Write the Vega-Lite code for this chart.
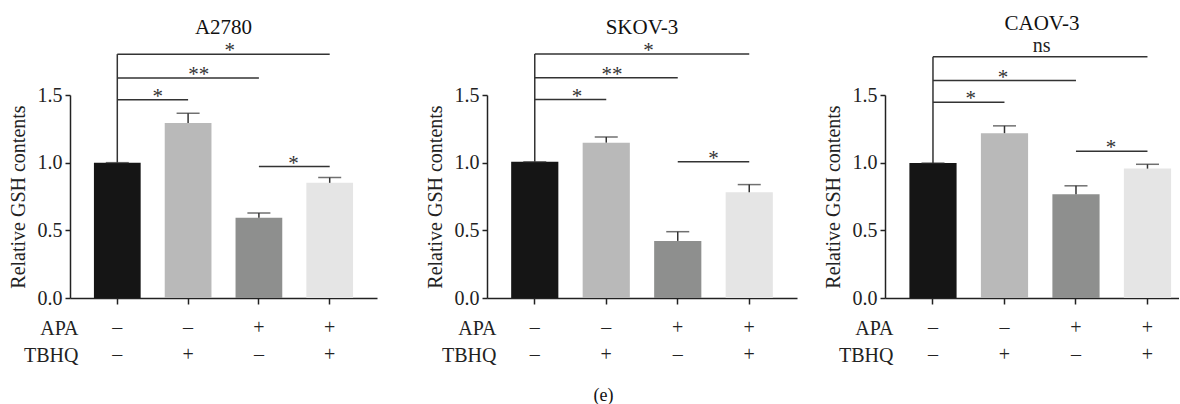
{
  "$schema": "https://vega.github.io/schema/vega-lite/v6.json",
  "padding": {"left": 8, "right": 0, "top": 12, "bottom": 0},
  "spacing": 26,
  "title": {"text": "(e)", "orient": "bottom", "anchor": "middle", "fontSize": 18, "offset": 22, "dx": 10, "color": "#111", "font": "Liberation Serif"},
  "datasets": {
    "barsA": [
      {"cond": "–/–", "value": 1.0, "hi": 1.0},
      {"cond": "–/+", "value": 1.294, "hi": 1.365},
      {"cond": "+/–", "value": 0.593, "hi": 0.628},
      {"cond": "+/+", "value": 0.851, "hi": 0.89}
    ],
    "brkA": [
      {"x1": 0, "x2": 3, "y": 1.802, "lab": "*", "lx": 1.59},
      {"x1": 0, "x2": 2, "y": 1.625, "lab": "**", "lx": 1.15},
      {"x1": 0, "x2": 1, "y": 1.465, "lab": "*", "lx": 0.57},
      {"x1": 2, "x2": 3, "y": 0.971, "lab": "*", "lx": 2.49}
    ],
    "stemA": [{"x": 0, "y": 1.0, "y2": 1.802}],
    "barsS": [
      {"cond": "–/–", "value": 1.006, "hi": 1.006},
      {"cond": "–/+", "value": 1.148, "hi": 1.19},
      {"cond": "+/–", "value": 0.422, "hi": 0.49},
      {"cond": "+/+", "value": 0.781, "hi": 0.838}
    ],
    "brkS": [
      {"x1": 0, "x2": 3, "y": 1.803, "lab": "*", "lx": 1.59},
      {"x1": 0, "x2": 2, "y": 1.627, "lab": "**", "lx": 1.08},
      {"x1": 0, "x2": 1, "y": 1.466, "lab": "*", "lx": 0.59},
      {"x1": 2, "x2": 3, "y": 1.006, "lab": "*", "lx": 2.5}
    ],
    "stemS": [{"x": 0, "y": 1.006, "y2": 1.803}],
    "barsC": [
      {"cond": "–/–", "value": 0.997, "hi": 0.997},
      {"cond": "–/+", "value": 1.218, "hi": 1.272},
      {"cond": "+/–", "value": 0.767, "hi": 0.829},
      {"cond": "+/+", "value": 0.956, "hi": 0.988}
    ],
    "brkC": [
      {"x1": 0, "x2": 3, "y": 1.782, "lab": "ns", "lx": 1.52},
      {"x1": 0, "x2": 2, "y": 1.607, "lab": "*", "lx": 0.98},
      {"x1": 0, "x2": 1, "y": 1.446, "lab": "*", "lx": 0.53},
      {"x1": 2, "x2": 3, "y": 1.085, "lab": "*", "lx": 2.49}
    ],
    "stemC": [{"x": 0, "y": 0.997, "y2": 1.782}]
  },
  "hconcat": [
    {
      "width": 329, "height": 203,
      "title": {"text": "A2780", "dx": -11},
      "resolve": {"scale": {"x": "independent"}},
      "layer": [
        {
          "data": {"name": "barsA"},
          "mark": {"type": "bar"},
          "encoding": {
            "x": {"field": "cond", "type": "nominal", "sort": null, "scale": {"range": [0, 307], "paddingInner": 0.34, "paddingOuter": 0.338},
              "axis": {"labelFont": "Liberation Serif", "titleFont": "Liberation Serif", "labelExpr": "split(datum.label,'/')", "labelLineHeight": 27, "labelAngle": 0, "labelBaseline": "top", "labelPadding": 13, "tickSize": 6, "title": ["APA", "TBHQ"], "titleX": 8, "titleY": 20, "titleAlign": "right", "titleBaseline": "top", "titleLineHeight": 27, "titleAngle": 0}},
            "y": {"field": "value", "type": "quantitative", "scale": {"domain": [0, 1.5], "nice": false},
              "axis": {"labelFont": "Liberation Serif", "titleFont": "Liberation Serif", "values": [0, 0.5, 1, 1.5], "format": ".1f", "tickSize": 5, "labelPadding": 3, "titlePadding": 9, "title": "Relative GSH contents"}},
            "color": {"field": "cond", "type": "nominal", "scale": {"domain": ["–/–", "–/+", "+/–", "+/+"], "range": ["#151515", "#b9b9b9", "#8e8f8e", "#e5e5e5"]}, "legend": null}
          }
        },
        {
          "data": {"name": "barsA"},
          "mark": {"type": "rule", "color": "#333", "strokeWidth": 1.5},
          "encoding": {
            "x": {"field": "cond", "type": "nominal", "sort": null, "scale": {"range": [0, 307], "paddingInner": 0.34, "paddingOuter": 0.338}, "axis": null},
            "y": {"field": "value", "type": "quantitative", "scale": {"domain": [0, 1.5], "nice": false}},
            "y2": {"field": "hi"}
          }
        },
        {
          "data": {"name": "barsA"},
          "mark": {"type": "tick", "color": "#333", "thickness": 1.5, "size": 23},
          "encoding": {
            "x": {"field": "cond", "type": "nominal", "sort": null, "scale": {"range": [0, 307], "paddingInner": 0.34, "paddingOuter": 0.338}, "axis": null},
            "y": {"field": "hi", "type": "quantitative", "scale": {"domain": [0, 1.5], "nice": false}}
          }
        },
        {
          "data": {"name": "brkA"},
          "mark": {"type": "rule", "color": "#333", "strokeWidth": 1.5},
          "encoding": {
            "x": {"field": "x1", "type": "quantitative", "scale": {"domain": [-0.668, 3.668], "range": [0, 307], "nice": false, "zero": false}, "axis": null},
            "x2": {"field": "x2"},
            "y": {"field": "y", "type": "quantitative", "scale": {"domain": [0, 1.5], "nice": false}}
          }
        },
        {
          "data": {"name": "stemA"},
          "mark": {"type": "rule", "color": "#333", "strokeWidth": 1.5},
          "encoding": {
            "x": {"field": "x", "type": "quantitative", "scale": {"domain": [-0.668, 3.668], "range": [0, 307], "nice": false, "zero": false}, "axis": null},
            "y": {"field": "y", "type": "quantitative", "scale": {"domain": [0, 1.5], "nice": false}},
            "y2": {"field": "y2"}
          }
        },
        {
          "data": {"name": "brkA"},
          "mark": {"type": "text", "font": "Liberation Serif", "fontSize": 21, "baseline": "alphabetic", "dy": 3, "color": "#333"},
          "encoding": {
            "x": {"field": "lx", "type": "quantitative", "scale": {"domain": [-0.668, 3.668], "range": [0, 307], "nice": false, "zero": false}, "axis": null},
            "y": {"field": "y", "type": "quantitative", "scale": {"domain": [0, 1.5], "nice": false}},
            "text": {"field": "lab"}
          }
        }
      ]
    },
    {
      "width": 310, "height": 203,
      "title": {"text": "SKOV-3"},
      "resolve": {"scale": {"x": "independent"}},
      "layer": [
        {
          "data": {"name": "barsS"},
          "mark": {"type": "bar"},
          "encoding": {
            "x": {"field": "cond", "type": "nominal", "sort": null, "scale": {"range": [0, 310], "paddingInner": 0.34, "paddingOuter": 0.338},
              "axis": {"labelFont": "Liberation Serif", "titleFont": "Liberation Serif", "labelExpr": "split(datum.label,'/')", "labelLineHeight": 27, "labelAngle": 0, "labelBaseline": "top", "labelPadding": 13, "tickSize": 6, "title": ["APA", "TBHQ"], "titleX": 9, "titleY": 20, "titleAlign": "right", "titleBaseline": "top", "titleLineHeight": 27, "titleAngle": 0}},
            "y": {"field": "value", "type": "quantitative", "scale": {"domain": [0, 1.5], "nice": false},
              "axis": {"labelFont": "Liberation Serif", "titleFont": "Liberation Serif", "values": [0, 0.5, 1, 1.5], "format": ".1f", "tickSize": 5, "labelPadding": 3, "titlePadding": 9, "title": "Relative GSH contents"}},
            "color": {"field": "cond", "type": "nominal", "scale": {"domain": ["–/–", "–/+", "+/–", "+/+"], "range": ["#151515", "#b9b9b9", "#8e8f8e", "#e5e5e5"]}, "legend": null}
          }
        },
        {
          "data": {"name": "barsS"},
          "mark": {"type": "rule", "color": "#333", "strokeWidth": 1.5},
          "encoding": {
            "x": {"field": "cond", "type": "nominal", "sort": null, "scale": {"range": [0, 310], "paddingInner": 0.34, "paddingOuter": 0.338}, "axis": null},
            "y": {"field": "value", "type": "quantitative", "scale": {"domain": [0, 1.5], "nice": false}},
            "y2": {"field": "hi"}
          }
        },
        {
          "data": {"name": "barsS"},
          "mark": {"type": "tick", "color": "#333", "thickness": 1.5, "size": 23},
          "encoding": {
            "x": {"field": "cond", "type": "nominal", "sort": null, "scale": {"range": [0, 310], "paddingInner": 0.34, "paddingOuter": 0.338}, "axis": null},
            "y": {"field": "hi", "type": "quantitative", "scale": {"domain": [0, 1.5], "nice": false}}
          }
        },
        {
          "data": {"name": "brkS"},
          "mark": {"type": "rule", "color": "#333", "strokeWidth": 1.5},
          "encoding": {
            "x": {"field": "x1", "type": "quantitative", "scale": {"domain": [-0.668, 3.668], "range": [0, 310], "nice": false, "zero": false}, "axis": null},
            "x2": {"field": "x2"},
            "y": {"field": "y", "type": "quantitative", "scale": {"domain": [0, 1.5], "nice": false}}
          }
        },
        {
          "data": {"name": "stemS"},
          "mark": {"type": "rule", "color": "#333", "strokeWidth": 1.5},
          "encoding": {
            "x": {"field": "x", "type": "quantitative", "scale": {"domain": [-0.668, 3.668], "range": [0, 310], "nice": false, "zero": false}, "axis": null},
            "y": {"field": "y", "type": "quantitative", "scale": {"domain": [0, 1.5], "nice": false}},
            "y2": {"field": "y2"}
          }
        },
        {
          "data": {"name": "brkS"},
          "mark": {"type": "text", "font": "Liberation Serif", "fontSize": 21, "baseline": "alphabetic", "dy": 3, "color": "#333"},
          "encoding": {
            "x": {"field": "lx", "type": "quantitative", "scale": {"domain": [-0.668, 3.668], "range": [0, 310], "nice": false, "zero": false}, "axis": null},
            "y": {"field": "y", "type": "quantitative", "scale": {"domain": [0, 1.5], "nice": false}},
            "text": {"field": "lab"}
          }
        }
      ]
    },
    {
      "width": 294, "height": 203,
      "title": {"text": "CAOV-3", "dx": 10},
      "resolve": {"scale": {"x": "independent"}},
      "layer": [
        {
          "data": {"name": "barsC"},
          "mark": {"type": "bar"},
          "encoding": {
            "x": {"field": "cond", "type": "nominal", "sort": null, "scale": {"range": [0, 294], "paddingInner": 0.34, "paddingOuter": 0.226, "align": 0.755},
              "axis": {"labelFont": "Liberation Serif", "titleFont": "Liberation Serif", "labelExpr": "split(datum.label,'/')", "labelLineHeight": 27, "labelAngle": 0, "labelBaseline": "top", "labelPadding": 13, "tickSize": 6, "title": ["APA", "TBHQ"], "titleX": 8, "titleY": 20, "titleAlign": "right", "titleBaseline": "top", "titleLineHeight": 27, "titleAngle": 0}},
            "y": {"field": "value", "type": "quantitative", "scale": {"domain": [0, 1.5], "nice": false},
              "axis": {"labelFont": "Liberation Serif", "titleFont": "Liberation Serif", "values": [0, 0.5, 1, 1.5], "format": ".1f", "tickSize": 5, "labelPadding": 3, "titlePadding": 9, "title": "Relative GSH contents"}},
            "color": {"field": "cond", "type": "nominal", "scale": {"domain": ["–/–", "–/+", "+/–", "+/+"], "range": ["#151515", "#b9b9b9", "#8e8f8e", "#e5e5e5"]}, "legend": null}
          }
        },
        {
          "data": {"name": "barsC"},
          "mark": {"type": "rule", "color": "#333", "strokeWidth": 1.5},
          "encoding": {
            "x": {"field": "cond", "type": "nominal", "sort": null, "scale": {"range": [0, 294], "paddingInner": 0.34, "paddingOuter": 0.226, "align": 0.755}, "axis": null},
            "y": {"field": "value", "type": "quantitative", "scale": {"domain": [0, 1.5], "nice": false}},
            "y2": {"field": "hi"}
          }
        },
        {
          "data": {"name": "barsC"},
          "mark": {"type": "tick", "color": "#333", "thickness": 1.5, "size": 23},
          "encoding": {
            "x": {"field": "cond", "type": "nominal", "sort": null, "scale": {"range": [0, 294], "paddingInner": 0.34, "paddingOuter": 0.226, "align": 0.755}, "axis": null},
            "y": {"field": "hi", "type": "quantitative", "scale": {"domain": [0, 1.5], "nice": false}}
          }
        },
        {
          "data": {"name": "brkC"},
          "mark": {"type": "rule", "color": "#333", "strokeWidth": 1.5},
          "encoding": {
            "x": {"field": "x1", "type": "quantitative", "scale": {"domain": [-0.671, 3.441], "range": [0, 294], "nice": false, "zero": false}, "axis": null},
            "x2": {"field": "x2"},
            "y": {"field": "y", "type": "quantitative", "scale": {"domain": [0, 1.5], "nice": false}}
          }
        },
        {
          "data": {"name": "stemC"},
          "mark": {"type": "rule", "color": "#333", "strokeWidth": 1.5},
          "encoding": {
            "x": {"field": "x", "type": "quantitative", "scale": {"domain": [-0.671, 3.441], "range": [0, 294], "nice": false, "zero": false}, "axis": null},
            "y": {"field": "y", "type": "quantitative", "scale": {"domain": [0, 1.5], "nice": false}},
            "y2": {"field": "y2"}
          }
        },
        {
          "data": {"name": "brkC"},
          "transform": [{"filter": "datum.lab !== 'ns'"}],
          "mark": {"type": "text", "font": "Liberation Serif", "fontSize": 21, "baseline": "alphabetic", "dy": 3, "color": "#333"},
          "encoding": {
            "x": {"field": "lx", "type": "quantitative", "scale": {"domain": [-0.671, 3.441], "range": [0, 294], "nice": false, "zero": false}, "axis": null},
            "y": {"field": "y", "type": "quantitative", "scale": {"domain": [0, 1.5], "nice": false}},
            "text": {"field": "lab"}
          }
        },
        {
          "data": {"name": "brkC"},
          "transform": [{"filter": "datum.lab === 'ns'"}],
          "mark": {"type": "text", "font": "Liberation Serif", "fontSize": 20, "baseline": "alphabetic", "dy": -5, "color": "#222"},
          "encoding": {
            "x": {"field": "lx", "type": "quantitative", "scale": {"domain": [-0.671, 3.441], "range": [0, 294], "nice": false, "zero": false}, "axis": null},
            "y": {"field": "y", "type": "quantitative", "scale": {"domain": [0, 1.5], "nice": false}},
            "text": {"field": "lab"}
          }
        }
      ]
    }
  ],
  "config": {
    "font": "Liberation Serif",
    "view": {"stroke": null},
    "title": {"font": "Liberation Serif", "fontSize": 21, "fontWeight": "normal", "color": "#111", "offset": 2},
    "axis": {"grid": false, "domainColor": "#222", "domainWidth": 1.5, "tickColor": "#222", "tickWidth": 1.5, "labelColor": "#222", "titleColor": "#222", "labelFont": "Liberation Serif", "titleFont": "Liberation Serif", "labelFontSize": 20, "titleFontSize": 20, "titleFontWeight": "normal"}
  }
}
